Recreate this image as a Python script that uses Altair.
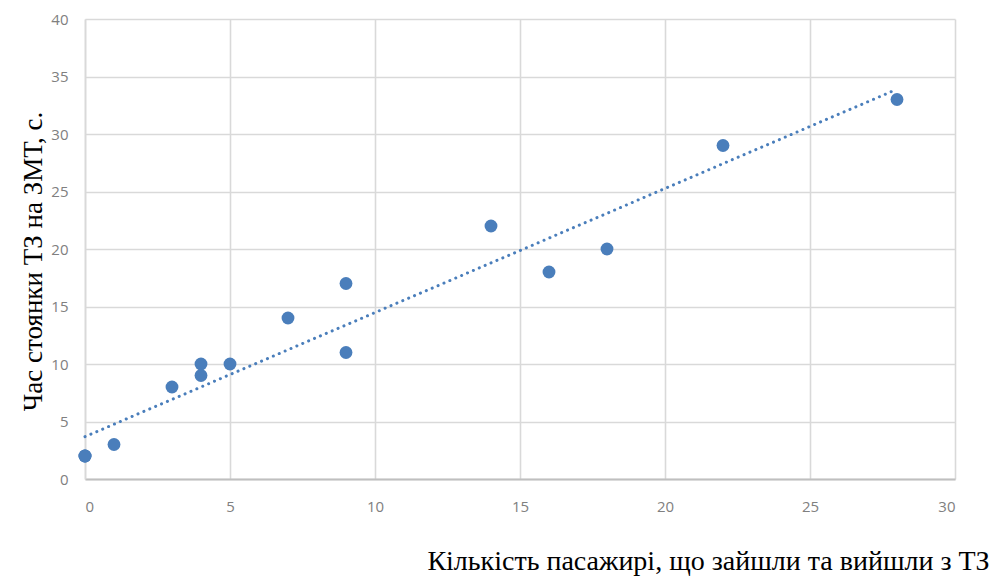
import altair as alt
import pandas as pd

# Passengers boarding/alighting vs. dwell time at the stop
# (three observations coincide at 0 passengers / 2 s)
passengers = [0, 0, 0, 1, 3, 4, 4, 5, 7, 9, 9, 14, 16, 18, 22, 28]
dwell_time = [2, 2, 2, 3, 8, 10, 9, 10, 14, 17, 11, 22, 18, 20, 29, 33]

x_ticks = [0, 5, 10, 15, 20, 25, 30]
y_ticks = [0, 5, 10, 15, 20, 25, 30, 35, 40]

df = pd.DataFrame({"x": passengers, "y": dwell_time})

blue = "#4a7ebb"
grid = "#d9d9d9"
label_font = "Open Sans"
title_font = "Liberation Serif"

x_enc = alt.X(
    "x:Q",
    scale=alt.Scale(domain=[0, 30], nice=False),
    axis=alt.Axis(
        values=x_ticks,
        title="Кількість пасажирі, що зайшли та вийшли з ТЗ",
        titleFont=title_font,
        titleFontSize=28,
        titleFontWeight="normal",
        titleColor="#000000",
        titleX=623,
        titleY=82,
        titleAlign="center",
        titleBaseline="middle",
        labelFont=label_font,
        labelFontSize=15,
        labelColor="#808080",
        labelPadding=20,
        ticks=False,
        domainColor="#bfbfbf",
        domainWidth=2,
        gridColor=grid,
        gridWidth=1.6,
    ),
)
y_enc = alt.Y(
    "y:Q",
    scale=alt.Scale(domain=[0, 40], nice=False),
    axis=alt.Axis(
        values=y_ticks,
        title="Час стоянки ТЗ на ЗМТ, с.",
        titleFont=title_font,
        titleFontSize=27,
        titleFontWeight="normal",
        titleColor="#000000",
        titleX=-52,
        titleY=242,
        titleAngle=270,
        titleAlign="center",
        titleBaseline="middle",
        labelFont=label_font,
        labelFontSize=15,
        labelColor="#808080",
        labelPadding=17,
        ticks=False,
        domainColor=grid,
        domainWidth=1.6,
        gridColor=grid,
        gridWidth=1.6,
    ),
)

points = alt.Chart(df).mark_circle(size=165, color=blue, opacity=1).encode(x=x_enc, y=y_enc)

trend = (
    alt.Chart(df)
    .transform_regression("x", "y", method="linear", extent=[0, 28])
    .mark_line(color=blue, strokeWidth=3, strokeDash=[0.1, 6.3], strokeCap="round")
    .encode(x=x_enc, y=y_enc)
)

chart = (
    alt.layer(trend, points)
    .properties(
        width=870,
        height=460,
        autosize=alt.AutoSizeParams(type="none"),
        padding={"left": 85, "top": 19, "right": 43, "bottom": 101},
        background="#ffffff",
    )
    .configure_view(strokeWidth=0)
)

chart.save("out.html", embed_options={"renderer": "svg", "actions": False})
